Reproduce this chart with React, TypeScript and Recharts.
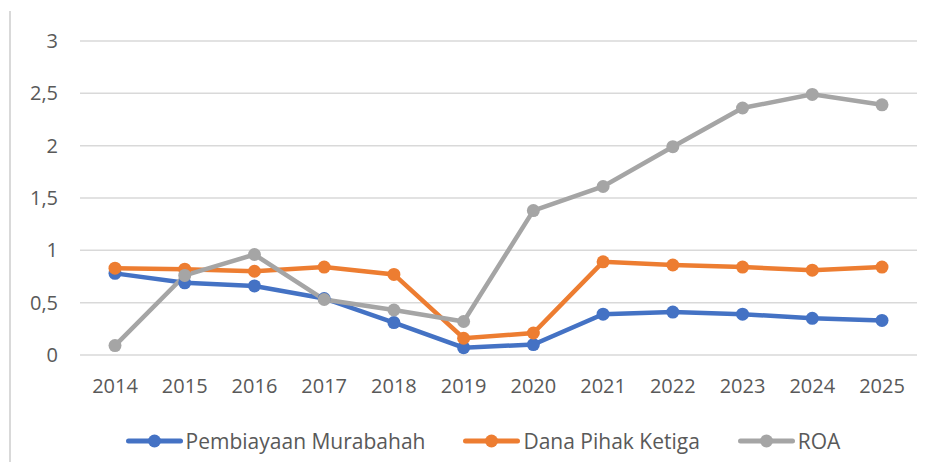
import { LineChart, Line, XAxis, YAxis, CartesianGrid } from 'recharts';

const years = ['2014', '2015', '2016', '2017', '2018', '2019', '2020', '2021', '2022', '2023', '2024', '2025'];
const murabahah = [0.78, 0.69, 0.66, 0.54, 0.31, 0.07, 0.1, 0.39, 0.41, 0.39, 0.35, 0.33];
const dpk = [0.83, 0.82, 0.8, 0.84, 0.77, 0.16, 0.21, 0.89, 0.86, 0.84, 0.81, 0.84];
const roa = [0.09, 0.76, 0.96, 0.53, 0.43, 0.32, 1.38, 1.61, 1.99, 2.36, 2.49, 2.39];
const yTicks = [0, 0.5, 1, 1.5, 2, 2.5, 3];

const data = years.map((year, i) => ({
  year,
  murabahah: murabahah[i],
  dpk: dpk[i],
  roa: roa[i],
}));

const series = [
  { key: 'murabahah', name: 'Pembiayaan Murabahah', color: '#4472C4' },
  { key: 'dpk', name: 'Dana Pihak Ketiga', color: '#ED7D31' },
  { key: 'roa', name: 'ROA', color: '#A5A5A5' },
];

const textColor = '#595959';
const font = '"Open Sans", Calibri, sans-serif';

// legend drawn outside the chart so it does not shrink the plot area
function ChartLegend() {
  return (
    <div
      style={{
        position: 'absolute', left: 0, top: 428, width: 966, display: 'flex', justifyContent: 'center',
        gap: 38, fontFamily: font, fontSize: 21, color: textColor, lineHeight: '26px',
      }}
    >
      {series.map((s) => (
        <div key={s.key} style={{ display: 'flex', alignItems: 'center' }}>
          <svg width={57} height={16} style={{ marginRight: 3 }}>
            <line x1={2.5} y1={8} x2={54.5} y2={8} stroke={s.color} strokeWidth={5} strokeLinecap="round" />
            <circle cx={28.5} cy={8} r={6.5} fill={s.color} />
          </svg>
          <span>{s.name}</span>
        </div>
      ))}
    </div>
  );
}

export default function App() {
  return (
    <div style={{ position: 'relative', width: 933, height: 470, background: '#fff', margin: -8 }}>
      <div style={{ position: 'absolute', left: 9, top: 11, width: 2, height: 459, background: '#D9D9D9' }} />
      <LineChart width={933} height={470} data={data} margin={{ top: 41, right: 16, bottom: 65, left: 0 }}>
        <CartesianGrid vertical={false} stroke="#D9D9D9" strokeWidth={1.5} />
        <XAxis
          dataKey="year"
          height={50}
          axisLine={false}
          tickLine={false}
          padding={{ left: 35, right: 35 }}
          tick={{ fill: textColor, fontSize: 20, fontFamily: font }}
          tickMargin={18}
        />
        <YAxis
          width={80}
          domain={[0, 3]}
          ticks={yTicks}
          interval={0}
          axisLine={false}
          tickLine={false}
          tickFormatter={(v: number) => String(v).replace('.', ',')}
          tick={{ fill: textColor, fontSize: 20, fontFamily: font }}
          tickMargin={16}
        />
        {series.map((s) => (
          <Line
            key={s.key}
            type="linear"
            dataKey={s.key}
            name={s.name}
            stroke={s.color}
            strokeWidth={4.5}
            dot={{ r: 6.5, fill: s.color, stroke: s.color, strokeWidth: 0 }}
            activeDot={false}
            isAnimationActive={false}
          />
        ))}
      </LineChart>
      <ChartLegend />
    </div>
  );
}
